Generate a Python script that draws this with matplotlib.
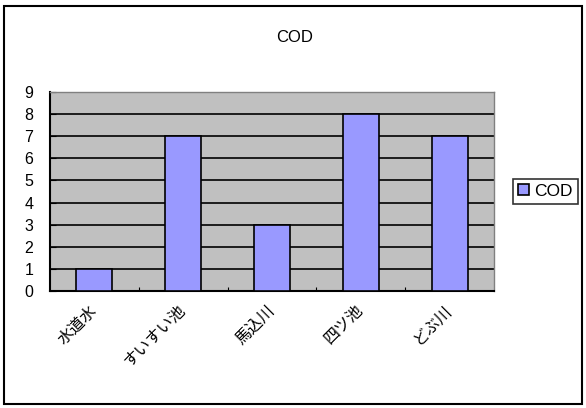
import matplotlib.pyplot as plt
from matplotlib.patches import Rectangle

plt.rcParams['font.family'] = ['Liberation Sans', 'Noto Sans CJK JP', 'DejaVu Sans']

places = ['水道水', 'すいすい池', '馬込川', '四ツ池', 'どぶ川']
cod = [1, 7, 3, 8, 7]
yticks = list(range(0, 10))

fig = plt.figure(figsize=(5.86, 4.08), dpi=100)
# plot area: x 50..494 px, y 92..291 px
ax = fig.add_axes([50 / 586, 1 - 291 / 408, 444 / 586, 199 / 408])
ax.set_facecolor('#C0C0C0')

x = list(range(len(places)))
ax.bar(x, cod, width=0.405, color='#9999FF', edgecolor='black', linewidth=1.2,
       label='COD', zorder=3)

ax.set_ylim(0, 9)
ax.set_xlim(-0.5, len(places) - 0.5)
ax.set_yticks(yticks)
ax.yaxis.grid(True, color='black', linewidth=1.2, zorder=1)
ax.set_axisbelow(True)
ax.tick_params(axis='y', direction='in', length=4, labelsize=11.5, pad=12)

ax.set_xticks([i + 0.5 for i in x[:-1]], minor=False)
ax.set_xticklabels([])
ax.tick_params(axis='x', direction='in', length=3)
ax.set_xticks(x, minor=True)
ax.set_xticklabels(places, minor=True, rotation=45, ha='right', va='center',
                   rotation_mode='anchor', fontsize=11.5,
                   family=['Noto Sans CJK JP', 'DejaVu Sans'])
ax.tick_params(axis='x', which='minor', length=0, pad=12)

for side in ['top', 'right']:
    ax.spines[side].set_color('#808080')
    ax.spines[side].set_linewidth(1)
for side in ['left', 'bottom']:
    ax.spines[side].set_color('black')
    ax.spines[side].set_linewidth(1.5)

fig.text(0.503, 0.909, 'COD', ha='center', va='center', fontsize=12)

leg = ax.legend(loc='center left', bbox_to_anchor=((513 - 50) / 444, 0.5),
                frameon=True, fancybox=False, edgecolor='black', fontsize=12.5,
                handlelength=0.6, handleheight=0.6, handletextpad=0.3,
                borderpad=0.3, borderaxespad=0)
leg.get_frame().set_linewidth(1.2)

fig.patches.append(Rectangle((4 / 586, 4 / 408), 578 / 586, 398 / 408,
                             transform=fig.transFigure, fill=False,
                             edgecolor='black', linewidth=1.5))

fig.savefig('out.png', dpi=100)
